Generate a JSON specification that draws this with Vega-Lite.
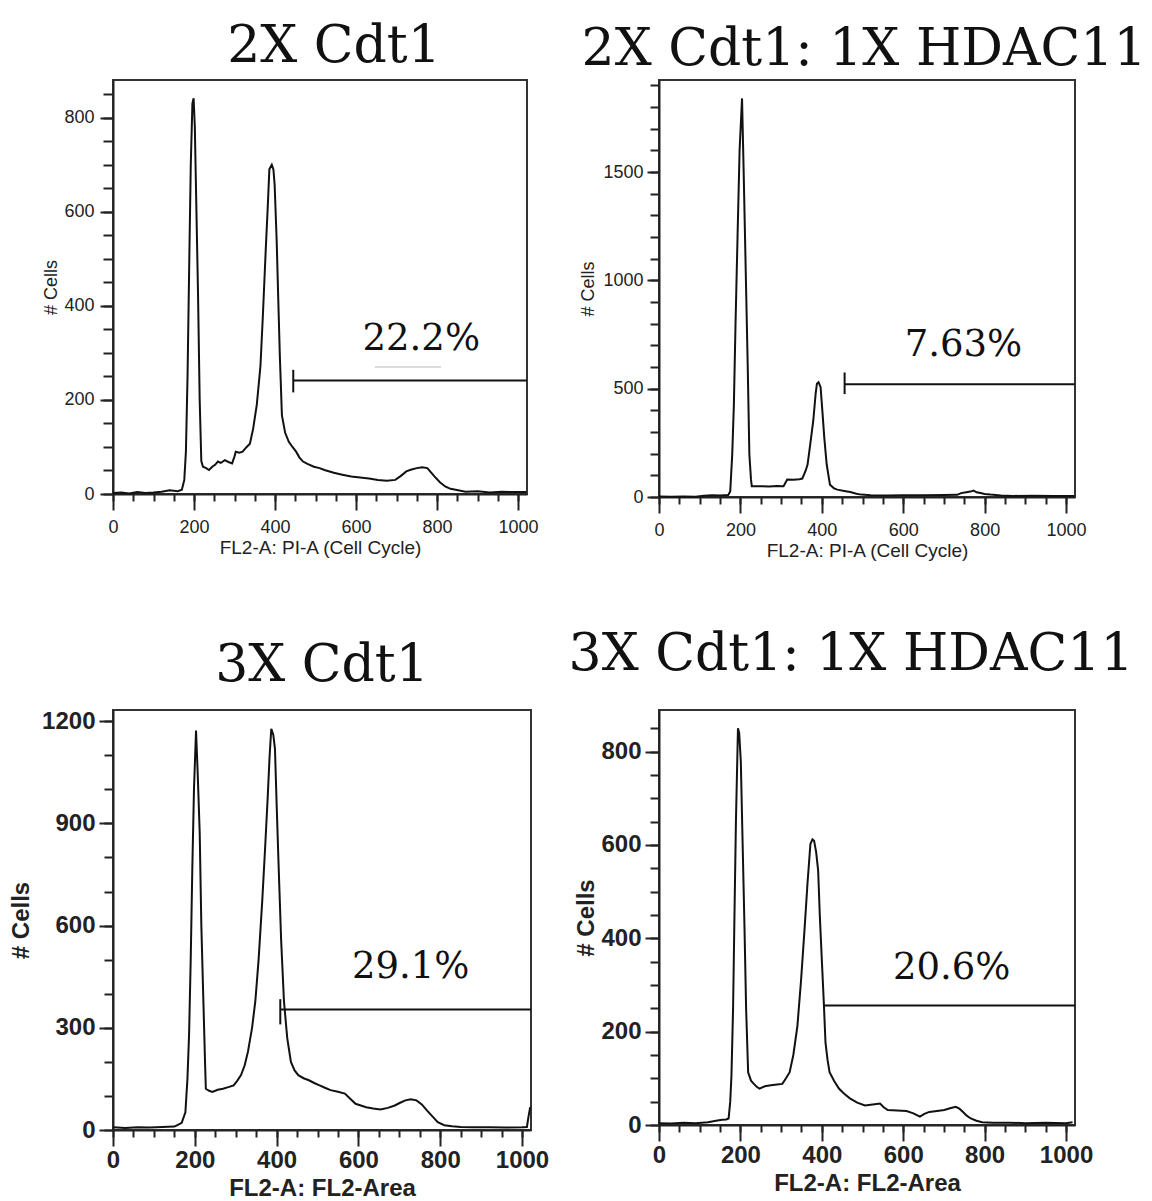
{
  "$schema": "https://vega.github.io/schema/vega-lite/v6.json",
  "background": "white",
  "padding": {"left": 8, "top": 19, "right": 5, "bottom": 0},
  "autosize": {"type": "pad"},
  "bounds": "flush",
  "align": "each",
  "columns": 2,
  "spacing": {"row": 213, "column": 128},
  "datasets": {
    "h1": [
      {"x": 0, "count": 2}, {"x": 20, "count": 3}, {"x": 40, "count": 1}, {"x": 60, "count": 4}, {"x": 80, "count": 2}, {"x": 100, "count": 3}, {"x": 120, "count": 5}, {"x": 140, "count": 8}, {"x": 160, "count": 6}, {"x": 170, "count": 9}, {"x": 176, "count": 30}, {"x": 180, "count": 90}, {"x": 184, "count": 250}, {"x": 188, "count": 480}, {"x": 192, "count": 700}, {"x": 196, "count": 830}, {"x": 199, "count": 841}, {"x": 202, "count": 780}, {"x": 206, "count": 600}, {"x": 210, "count": 420}, {"x": 214, "count": 200}, {"x": 218, "count": 70}, {"x": 222, "count": 58}, {"x": 230, "count": 55}, {"x": 237, "count": 51}, {"x": 245, "count": 58}, {"x": 252, "count": 62}, {"x": 259, "count": 69}, {"x": 266, "count": 66}, {"x": 276, "count": 72}, {"x": 285, "count": 68}, {"x": 294, "count": 65}, {"x": 300, "count": 80}, {"x": 303, "count": 90}, {"x": 312, "count": 88}, {"x": 320, "count": 90}, {"x": 330, "count": 100}, {"x": 338, "count": 107}, {"x": 346, "count": 139}, {"x": 355, "count": 190}, {"x": 364, "count": 272}, {"x": 370, "count": 380}, {"x": 377, "count": 518}, {"x": 382, "count": 610}, {"x": 386, "count": 690}, {"x": 392, "count": 700}, {"x": 396, "count": 690}, {"x": 399, "count": 658}, {"x": 404, "count": 540}, {"x": 408, "count": 413}, {"x": 412, "count": 290}, {"x": 417, "count": 167}, {"x": 425, "count": 130}, {"x": 434, "count": 111}, {"x": 443, "count": 100}, {"x": 452, "count": 90}, {"x": 460, "count": 78}, {"x": 469, "count": 69}, {"x": 480, "count": 64}, {"x": 496, "count": 58}, {"x": 510, "count": 55}, {"x": 522, "count": 51}, {"x": 545, "count": 45}, {"x": 566, "count": 41}, {"x": 588, "count": 37}, {"x": 610, "count": 35}, {"x": 632, "count": 33}, {"x": 654, "count": 30}, {"x": 676, "count": 28}, {"x": 697, "count": 30}, {"x": 710, "count": 38}, {"x": 724, "count": 48}, {"x": 737, "count": 52}, {"x": 750, "count": 55}, {"x": 763, "count": 57}, {"x": 776, "count": 55}, {"x": 785, "count": 46}, {"x": 794, "count": 37}, {"x": 807, "count": 25}, {"x": 820, "count": 16}, {"x": 833, "count": 11}, {"x": 846, "count": 9}, {"x": 870, "count": 5}, {"x": 900, "count": 6}, {"x": 930, "count": 3}, {"x": 960, "count": 5}, {"x": 990, "count": 4}, {"x": 1020, "count": 4}
    ],
    "h2": [
      {"x": 0, "count": 2}, {"x": 30, "count": 1}, {"x": 60, "count": 2}, {"x": 90, "count": 1}, {"x": 110, "count": 6}, {"x": 130, "count": 8}, {"x": 150, "count": 7}, {"x": 170, "count": 9}, {"x": 175, "count": 26}, {"x": 180, "count": 200}, {"x": 184, "count": 430}, {"x": 188, "count": 800}, {"x": 193, "count": 1205}, {"x": 198, "count": 1600}, {"x": 204, "count": 1840}, {"x": 208, "count": 1500}, {"x": 213, "count": 1050}, {"x": 218, "count": 600}, {"x": 222, "count": 197}, {"x": 226, "count": 80}, {"x": 228, "count": 50}, {"x": 250, "count": 50}, {"x": 270, "count": 49}, {"x": 290, "count": 51}, {"x": 306, "count": 50}, {"x": 312, "count": 70}, {"x": 315, "count": 81}, {"x": 330, "count": 80}, {"x": 345, "count": 82}, {"x": 352, "count": 85}, {"x": 360, "count": 120}, {"x": 365, "count": 150}, {"x": 372, "count": 250}, {"x": 379, "count": 352}, {"x": 385, "count": 480}, {"x": 388, "count": 523}, {"x": 392, "count": 530}, {"x": 397, "count": 507}, {"x": 402, "count": 380}, {"x": 406, "count": 275}, {"x": 412, "count": 150}, {"x": 420, "count": 57}, {"x": 430, "count": 40}, {"x": 438, "count": 34}, {"x": 455, "count": 28}, {"x": 470, "count": 23}, {"x": 485, "count": 15}, {"x": 497, "count": 11}, {"x": 520, "count": 8}, {"x": 560, "count": 7}, {"x": 600, "count": 8}, {"x": 650, "count": 8}, {"x": 700, "count": 9}, {"x": 733, "count": 10}, {"x": 742, "count": 18}, {"x": 755, "count": 22}, {"x": 765, "count": 25}, {"x": 773, "count": 30}, {"x": 780, "count": 22}, {"x": 790, "count": 18}, {"x": 800, "count": 14}, {"x": 814, "count": 11}, {"x": 840, "count": 7}, {"x": 870, "count": 5}, {"x": 920, "count": 6}, {"x": 970, "count": 5}, {"x": 1020, "count": 5}
    ],
    "h3": [
      {"x": 0, "count": 8}, {"x": 30, "count": 6}, {"x": 60, "count": 8}, {"x": 90, "count": 7}, {"x": 120, "count": 9}, {"x": 150, "count": 10}, {"x": 155, "count": 13}, {"x": 168, "count": 21}, {"x": 177, "count": 52}, {"x": 182, "count": 150}, {"x": 186, "count": 280}, {"x": 190, "count": 500}, {"x": 194, "count": 773}, {"x": 198, "count": 1000}, {"x": 203, "count": 1173}, {"x": 207, "count": 1050}, {"x": 212, "count": 872}, {"x": 216, "count": 600}, {"x": 221, "count": 378}, {"x": 225, "count": 200}, {"x": 227, "count": 121}, {"x": 235, "count": 115}, {"x": 243, "count": 112}, {"x": 256, "count": 118}, {"x": 269, "count": 121}, {"x": 282, "count": 126}, {"x": 295, "count": 131}, {"x": 304, "count": 145}, {"x": 313, "count": 161}, {"x": 322, "count": 190}, {"x": 330, "count": 230}, {"x": 340, "count": 300}, {"x": 348, "count": 378}, {"x": 356, "count": 500}, {"x": 365, "count": 675}, {"x": 372, "count": 830}, {"x": 378, "count": 971}, {"x": 383, "count": 1100}, {"x": 387, "count": 1178}, {"x": 392, "count": 1160}, {"x": 396, "count": 1119}, {"x": 400, "count": 960}, {"x": 405, "count": 773}, {"x": 411, "count": 560}, {"x": 418, "count": 378}, {"x": 426, "count": 270}, {"x": 435, "count": 200}, {"x": 444, "count": 175}, {"x": 453, "count": 161}, {"x": 466, "count": 152}, {"x": 479, "count": 146}, {"x": 492, "count": 138}, {"x": 505, "count": 131}, {"x": 518, "count": 124}, {"x": 532, "count": 117}, {"x": 550, "count": 112}, {"x": 567, "count": 107}, {"x": 580, "count": 92}, {"x": 593, "count": 77}, {"x": 606, "count": 72}, {"x": 619, "count": 67}, {"x": 636, "count": 63}, {"x": 654, "count": 60}, {"x": 672, "count": 65}, {"x": 689, "count": 72}, {"x": 702, "count": 80}, {"x": 715, "count": 87}, {"x": 728, "count": 90}, {"x": 742, "count": 87}, {"x": 755, "count": 75}, {"x": 768, "count": 57}, {"x": 781, "count": 40}, {"x": 794, "count": 23}, {"x": 810, "count": 14}, {"x": 829, "count": 11}, {"x": 850, "count": 9}, {"x": 880, "count": 8}, {"x": 920, "count": 8}, {"x": 960, "count": 7}, {"x": 1000, "count": 8}, {"x": 1012, "count": 9}, {"x": 1016, "count": 40}, {"x": 1020, "count": 67}
    ],
    "h4": [
      {"x": 0, "count": 4}, {"x": 30, "count": 3}, {"x": 60, "count": 5}, {"x": 90, "count": 4}, {"x": 120, "count": 6}, {"x": 127, "count": 7}, {"x": 140, "count": 9}, {"x": 155, "count": 11}, {"x": 165, "count": 12}, {"x": 171, "count": 14}, {"x": 175, "count": 50}, {"x": 178, "count": 106}, {"x": 182, "count": 250}, {"x": 185, "count": 425}, {"x": 189, "count": 650}, {"x": 194, "count": 850}, {"x": 197, "count": 840}, {"x": 201, "count": 779}, {"x": 205, "count": 620}, {"x": 210, "count": 425}, {"x": 214, "count": 250}, {"x": 219, "count": 113}, {"x": 226, "count": 95}, {"x": 233, "count": 88}, {"x": 240, "count": 82}, {"x": 247, "count": 78}, {"x": 260, "count": 83}, {"x": 275, "count": 85}, {"x": 290, "count": 87}, {"x": 303, "count": 88}, {"x": 312, "count": 100}, {"x": 321, "count": 113}, {"x": 330, "count": 150}, {"x": 340, "count": 212}, {"x": 349, "count": 310}, {"x": 358, "count": 425}, {"x": 365, "count": 520}, {"x": 372, "count": 602}, {"x": 377, "count": 612}, {"x": 381, "count": 609}, {"x": 386, "count": 585}, {"x": 391, "count": 545}, {"x": 395, "count": 450}, {"x": 400, "count": 354}, {"x": 405, "count": 260}, {"x": 409, "count": 177}, {"x": 414, "count": 140}, {"x": 419, "count": 113}, {"x": 430, "count": 95}, {"x": 442, "count": 78}, {"x": 455, "count": 67}, {"x": 469, "count": 57}, {"x": 487, "count": 48}, {"x": 506, "count": 42}, {"x": 525, "count": 44}, {"x": 543, "count": 46}, {"x": 552, "count": 38}, {"x": 562, "count": 32}, {"x": 585, "count": 31}, {"x": 608, "count": 30}, {"x": 625, "count": 25}, {"x": 641, "count": 18}, {"x": 652, "count": 24}, {"x": 664, "count": 28}, {"x": 683, "count": 30}, {"x": 701, "count": 32}, {"x": 715, "count": 36}, {"x": 729, "count": 39}, {"x": 738, "count": 35}, {"x": 747, "count": 28}, {"x": 756, "count": 20}, {"x": 766, "count": 14}, {"x": 780, "count": 9}, {"x": 794, "count": 6}, {"x": 820, "count": 5}, {"x": 860, "count": 5}, {"x": 900, "count": 4}, {"x": 950, "count": 5}, {"x": 1000, "count": 4}, {"x": 1016, "count": 6}
    ],
    "g1": [{"x1": 445, "x2": 1022, "y": 241, "t1": 216, "t2": 264, "lx": 761, "ly": 306, "label": "22.2%", "fx1": 646, "fx2": 810, "fy": 270}],
    "g2": [{"x1": 456, "x2": 1022, "y": 521, "t1": 475, "t2": 575, "lx": 748, "ly": 653, "label": "7.63%"}],
    "g3": [{"x1": 409, "x2": 1022, "y": 354, "t1": 310, "t2": 384, "lx": 728, "ly": 446, "label": "29.1%"}],
    "g4": [{"x1": 403, "x2": 1022, "y": 256, "t1": 256, "t2": 256, "lx": 719, "ly": 313, "label": "20.6%"}]
  },
  "concat": [
    {
      "width": 414, "height": 414,
      "title": {"text": "2X Cdt1", "dx": 14, "offset": 7},
      "layer": [
        {
          "data": {"name": "h1"},
          "mark": {"type": "line", "color": "#111", "strokeWidth": 2},
          "encoding": {
            "x": {"field": "x", "type": "quantitative", "scale": {"domain": [0, 1022], "nice": false, "zero": false},
                  "axis": {"values": [0, 200, 400, 600, 800, 1000], "format": "d", "tickSize": 16, "labelPadding": 8, "title": "FL2-A: PI-A  (Cell Cycle)", "titleFontSize": 19, "titlePadding": 2}},
            "y": {"field": "count", "type": "quantitative", "scale": {"domain": [0, 880], "nice": false},
                  "axis": {"values": [0, 200, 400, 600, 800], "format": "d", "tickSize": 13, "labelPadding": 6, "title": "# Cells", "titlePadding": 3}}
          }
        },
        {
          "data": {"name": "g1"},
          "mark": {"type": "rule", "color": "#111", "strokeWidth": 2},
          "encoding": {
            "x": {"field": "x1", "type": "quantitative", "axis": {"orient": "bottom", "values": [0, 50, 100, 150, 200, 250, 300, 350, 400, 450, 500, 550, 600, 650, 700, 750, 800, 850, 900, 950, 1000], "tickSize": 7, "labels": false, "domain": false, "title": null}},
            "x2": {"field": "x2"},
            "y": {"field": "y", "type": "quantitative", "axis": {"orient": "left", "values": [0, 50, 100, 150, 200, 250, 300, 350, 400, 450, 500, 550, 600, 650, 700, 750, 800, 850], "tickSize": 10, "labels": false, "domain": false, "title": null}}
          }
        },
        {
          "data": {"name": "g1"},
          "mark": {"type": "rule", "color": "#111", "strokeWidth": 2},
          "encoding": {
            "x": {"field": "x1", "type": "quantitative", "axis": null},
            "y": {"field": "t1", "type": "quantitative", "axis": null},
            "y2": {"field": "t2"}
          }
        },
        {
          "data": {"name": "g1"},
          "mark": {"type": "rule", "color": "#dcdcdc", "strokeWidth": 2},
          "encoding": {
            "x": {"field": "fx1", "type": "quantitative", "axis": null},
            "x2": {"field": "fx2"},
            "y": {"field": "fy", "type": "quantitative", "axis": null}
          }
        },
        {
          "data": {"name": "g1"},
          "mark": {"type": "text", "font": "DejaVu Serif", "fontSize": 37, "align": "center", "baseline": "alphabetic", "color": "#111"},
          "encoding": {
            "x": {"field": "lx", "type": "quantitative", "axis": null},
            "y": {"field": "ly", "type": "quantitative", "axis": null},
            "text": {"field": "label"}
          }
        }
      ],
      "resolve": {"axis": {"x": "independent", "y": "independent"}}
    },
    {
      "width": 416, "height": 417,
      "title": {"text": "2X Cdt1: 1X HDAC11", "dx": -3, "offset": 4},
      "layer": [
        {
          "data": {"name": "h2"},
          "mark": {"type": "line", "color": "#111", "strokeWidth": 2},
          "encoding": {
            "x": {"field": "x", "type": "quantitative", "scale": {"domain": [0, 1022], "nice": false, "zero": false},
                  "axis": {"values": [0, 200, 400, 600, 800, 1000], "format": "d", "tickSize": 16, "labelPadding": 8, "title": "FL2-A: PI-A  (Cell Cycle)", "titleFontSize": 19, "titlePadding": 2}},
            "y": {"field": "count", "type": "quantitative", "scale": {"domain": [0, 1925], "nice": false},
                  "axis": {"values": [0, 500, 1000, 1500], "format": "d", "tickSize": 12, "labelPadding": 4, "title": "# Cells", "titlePadding": 5}}
          }
        },
        {
          "data": {"name": "g2"},
          "mark": {"type": "rule", "color": "#111", "strokeWidth": 2},
          "encoding": {
            "x": {"field": "x1", "type": "quantitative", "axis": {"orient": "bottom", "values": [0, 50, 100, 150, 200, 250, 300, 350, 400, 450, 500, 550, 600, 650, 700, 750, 800, 850, 900, 950, 1000], "tickSize": 7, "labels": false, "domain": false, "title": null}},
            "x2": {"field": "x2"},
            "y": {"field": "y", "type": "quantitative", "axis": {"orient": "left", "values": [0, 100, 200, 300, 400, 500, 600, 700, 800, 900, 1000, 1100, 1200, 1300, 1400, 1500, 1600, 1700, 1800, 1900], "tickSize": 9, "labels": false, "domain": false, "title": null}}
          }
        },
        {
          "data": {"name": "g2"},
          "mark": {"type": "rule", "color": "#111", "strokeWidth": 2},
          "encoding": {
            "x": {"field": "x1", "type": "quantitative", "axis": null},
            "y": {"field": "t1", "type": "quantitative", "axis": null},
            "y2": {"field": "t2"}
          }
        },
        {
          "data": {"name": "g2"},
          "mark": {"type": "text", "font": "DejaVu Serif", "fontSize": 37, "align": "center", "baseline": "alphabetic", "color": "#111"},
          "encoding": {
            "x": {"field": "lx", "type": "quantitative", "axis": null},
            "y": {"field": "ly", "type": "quantitative", "axis": null},
            "text": {"field": "label"}
          }
        }
      ],
      "resolve": {"axis": {"x": "independent", "y": "independent"}}
    },
    {
      "width": 418, "height": 420,
      "title": {"text": "3X Cdt1", "dx": 0, "offset": 17},
      "layer": [
        {
          "data": {"name": "h3"},
          "mark": {"type": "line", "color": "#111", "strokeWidth": 2},
          "encoding": {
            "x": {"field": "x", "type": "quantitative", "scale": {"domain": [0, 1022], "nice": false, "zero": false},
                  "axis": {"values": [0, 200, 400, 600, 800, 1000], "format": "d", "tickSize": 16, "labelPadding": 2, "labelFontSize": 24, "labelFontWeight": "bold", "title": "FL2-A: FL2-Area", "titleFontSize": 24, "titleFontWeight": "bold", "titlePadding": 4}},
            "y": {"field": "count", "type": "quantitative", "scale": {"domain": [0, 1233], "nice": false},
                  "axis": {"values": [0, 300, 600, 900, 1200], "format": "d", "tickSize": 14, "labelPadding": 4, "labelFontSize": 24, "labelFontWeight": "bold", "title": "# Cells", "titleFontSize": 24, "titleFontWeight": "bold", "titlePadding": 8}}
          }
        },
        {
          "data": {"name": "g3"},
          "mark": {"type": "rule", "color": "#111", "strokeWidth": 2},
          "encoding": {
            "x": {"field": "x1", "type": "quantitative", "axis": {"orient": "bottom", "values": [0, 50, 100, 150, 200, 250, 300, 350, 400, 450, 500, 550, 600, 650, 700, 750, 800, 850, 900, 950, 1000], "tickSize": 7, "labels": false, "domain": false, "title": null}},
            "x2": {"field": "x2"},
            "y": {"field": "y", "type": "quantitative", "axis": {"orient": "left", "values": [0, 100, 200, 300, 400, 500, 600, 700, 800, 900, 1000, 1100, 1200], "tickSize": 9, "labels": false, "domain": false, "title": null}}
          }
        },
        {
          "data": {"name": "g3"},
          "mark": {"type": "rule", "color": "#111", "strokeWidth": 2},
          "encoding": {
            "x": {"field": "x1", "type": "quantitative", "axis": null},
            "y": {"field": "t1", "type": "quantitative", "axis": null},
            "y2": {"field": "t2"}
          }
        },
        {
          "data": {"name": "g3"},
          "mark": {"type": "text", "font": "DejaVu Serif", "fontSize": 37, "align": "center", "baseline": "alphabetic", "color": "#111"},
          "encoding": {
            "x": {"field": "lx", "type": "quantitative", "axis": null},
            "y": {"field": "ly", "type": "quantitative", "axis": null},
            "text": {"field": "label"}
          }
        }
      ],
      "resolve": {"axis": {"x": "independent", "y": "independent"}}
    },
    {
      "width": 416, "height": 415,
      "title": {"text": "3X Cdt1: 1X HDAC11", "dx": -16, "offset": 29},
      "layer": [
        {
          "data": {"name": "h4"},
          "mark": {"type": "line", "color": "#111", "strokeWidth": 2},
          "encoding": {
            "x": {"field": "x", "type": "quantitative", "scale": {"domain": [0, 1022], "nice": false, "zero": false},
                  "axis": {"values": [0, 200, 400, 600, 800, 1000], "format": "d", "tickSize": 16, "labelPadding": 2, "labelFontSize": 24, "labelFontWeight": "bold", "title": "FL2-A: FL2-Area", "titleFontSize": 24, "titleFontWeight": "bold", "titlePadding": 4}},
            "y": {"field": "count", "type": "quantitative", "scale": {"domain": [0, 889], "nice": false},
                  "axis": {"values": [0, 200, 400, 600, 800], "format": "d", "tickSize": 14, "labelPadding": 4, "labelFontSize": 24, "labelFontWeight": "bold", "title": "# Cells", "titleFontSize": 24, "titleFontWeight": "bold", "titlePadding": 2}}
          }
        },
        {
          "data": {"name": "g4"},
          "mark": {"type": "rule", "color": "#111", "strokeWidth": 2},
          "encoding": {
            "x": {"field": "x1", "type": "quantitative", "axis": {"orient": "bottom", "values": [0, 50, 100, 150, 200, 250, 300, 350, 400, 450, 500, 550, 600, 650, 700, 750, 800, 850, 900, 950, 1000], "tickSize": 7, "labels": false, "domain": false, "title": null}},
            "x2": {"field": "x2"},
            "y": {"field": "y", "type": "quantitative", "axis": {"orient": "left", "values": [0, 50, 100, 150, 200, 250, 300, 350, 400, 450, 500, 550, 600, 650, 700, 750, 800, 850], "tickSize": 9, "labels": false, "domain": false, "title": null}}
          }
        },
        {
          "data": {"name": "g4"},
          "mark": {"type": "text", "font": "DejaVu Serif", "fontSize": 37, "align": "center", "baseline": "alphabetic", "color": "#111"},
          "encoding": {
            "x": {"field": "lx", "type": "quantitative", "axis": null},
            "y": {"field": "ly", "type": "quantitative", "axis": null},
            "text": {"field": "label"}
          }
        }
      ],
      "resolve": {"axis": {"x": "independent", "y": "independent"}}
    }
  ],
  "config": {
    "view": {"stroke": "#333", "strokeWidth": 2},
    "axis": {
      "grid": false,
      "domainColor": "#222", "domainWidth": 2,
      "tickColor": "#222", "tickWidth": 2,
      "labelColor": "#222", "titleColor": "#222",
      "labelFont": "Liberation Sans", "titleFont": "Liberation Sans",
      "labelFontSize": 18, "titleFontSize": 18,
      "labelFontWeight": "normal", "titleFontWeight": "normal",
      "labelFlush": false, "labelOverlap": false, "labelBound": false
    },
    "title": {"font": "DejaVu Serif", "fontSize": 52, "fontWeight": "normal", "color": "#111", "anchor": "middle", "frame": "group"}
  }
}
